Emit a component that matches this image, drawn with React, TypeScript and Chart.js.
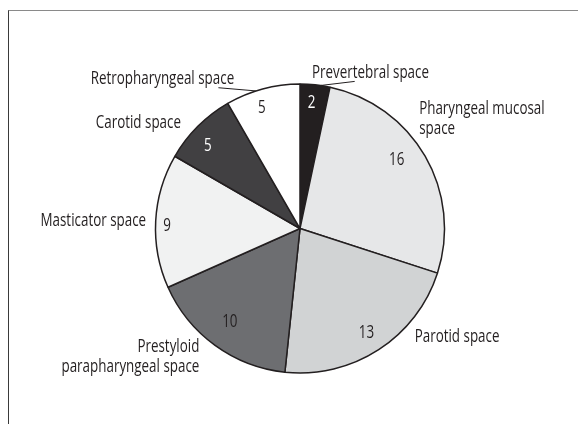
import React, { useEffect, useRef } from "react";
import { Chart, registerables } from "chart.js";

Chart.register(...registerables);

// ---- data ----
const categories = [
  "Prevertebral space",
  "Pharyngeal mucosal space",
  "Parotid space",
  "Prestyloid parapharyngeal space",
  "Masticator space",
  "Carotid space",
  "Retropharyngeal space",
];
const counts = [2, 16, 13, 10, 9, 5, 5];
const labelLines = [
  ["Prevertebral space"],
  ["Pharyngeal mucosal", "space"],
  ["Parotid space"],
  ["Prestyloid", "parapharyngeal space"],
  ["Masticator space"],
  ["Carotid space"],
  ["Retropharyngeal space"],
];

// ---- styles / label placement (angle: degrees clockwise from top, r: fraction of radius) ----
const sliceColors = ["#231f20", "#e6e7e8", "#d1d3d4", "#6d6e71", "#f1f2f2", "#414042", "#ffffff"];
const valueColors = ["#ffffff", "#231f20", "#231f20", "#231f20", "#231f20", "#ffffff", "#231f20"];
const valuePlacement = [
  { angle: 5.3, r: 0.872 },
  { angle: 54.8, r: 0.819 },
  { angle: 147.5, r: 0.855 },
  { angle: 216.8, r: 0.811 },
  { angle: 271.2, r: 0.92 },
  { angle: 312, r: 0.859 },
  { angle: 342.4, r: 0.875 },
];
const outerPlacement = [
  { angle: 4.4, r: 1.083, align: "left" },
  { angle: 47.4, r: 1.12, align: "left" },
  { angle: 133.4, r: 1.092, align: "left" },
  { angle: 218, r: 1.131, align: "right" },
  { angle: 272.8, r: 1.066, align: "right" },
  { angle: 311.7, r: 1.103, align: "right" },
  { angle: 336.3, r: 1.133, align: "right" },
];
const leaders = [
  { from: 8.2, toAngle: 20.4, toR: 1.086 },
  null,
  null,
  null,
  null,
  null,
  { from: 342.2, toAngle: 329.9, toR: 1.126 },
];
const FONT = '"Open Sans", "Liberation Sans", sans-serif';
const FONT_WEIGHT = 500;
const FONT_SIZE = 18;
const REF_TEXT = "Prevertebral space";
const REF_WIDTH = 117;
const TEXT = "#231f20";

function pt(cx: number, cy: number, deg: number, r: number) {
  const a = (deg * Math.PI) / 180 - Math.PI / 2;
  return { x: cx + Math.cos(a) * r, y: cy + Math.sin(a) * r };
}

function drawText(ctx: any, s: string, x: number, y: number, sx: number) {
  ctx.save();
  ctx.translate(x, y);
  ctx.scale(sx, 1);
  ctx.fillText(s, 0, 0);
  ctx.restore();
}

const labelPlugin = {
  id: "pieLabels",
  afterDatasetsDraw(chart: any) {
    const ctx = chart.ctx;
    const meta = chart.getDatasetMeta(0);
    ctx.save();
    ctx.font = `${FONT_WEIGHT} ${FONT_SIZE}px ${FONT}`;
    ctx.textBaseline = "middle";
    const sx = REF_WIDTH / ctx.measureText(REF_TEXT).width;
    meta.data.forEach((arc: any, i: number) => {
      const cx = arc.x;
      const cy = arc.y;
      const R = arc.outerRadius;
      // value label
      const vp = valuePlacement[i];
      const v = pt(cx, cy, vp.angle, R * vp.r);
      ctx.fillStyle = valueColors[i];
      ctx.textAlign = "center";
      drawText(ctx, String(counts[i]), v.x, v.y, sx);
      // outer label
      const pl = outerPlacement[i];
      const p = pt(cx, cy, pl.angle, R * pl.r);
      const lines = labelLines[i];
      const lh = 20;
      ctx.fillStyle = TEXT;
      ctx.textAlign = pl.align;
      lines.forEach((ln, k) => {
        drawText(ctx, ln, p.x, p.y + (k - (lines.length - 1) / 2) * lh, sx);
      });
      // leader
      const ld = leaders[i];
      if (ld) {
        const a = pt(cx, cy, ld.from, R);
        const b = pt(cx, cy, ld.toAngle, R * ld.toR);
        ctx.strokeStyle = TEXT;
        ctx.lineWidth = 1;
        ctx.beginPath();
        ctx.moveTo(a.x, a.y);
        ctx.lineTo(b.x, b.y);
        ctx.stroke();
      }
    });
    ctx.restore();
  },
};

export default function App() {
  const ref = useRef<HTMLCanvasElement | null>(null);
  useEffect(() => {
    if (!ref.current) return;
    const chart = new Chart(ref.current, {
      type: "pie",
      data: {
        labels: categories,
        datasets: [
          {
            data: counts,
            backgroundColor: sliceColors,
            borderColor: TEXT,
            borderWidth: 1.5,
          },
        ],
      },
      options: {
        responsive: false,
        animation: false,
        devicePixelRatio: 1,
        radius: 144.5,
        layout: { padding: { left: 155, right: 133, top: 83.5, bottom: 50.5 } },
        plugins: { legend: { display: false }, tooltip: { enabled: false } },
      } as any,
      plugins: [labelPlugin],
    });
    return () => chart.destroy();
  }, []);
  return (
    <div style={{ position: "fixed", left: 0, top: 0, width: 578, height: 424, overflow: "hidden", background: "#fff" }}>
      <div
        style={{
          position: "absolute",
          left: 8,
          top: 10,
          width: 640,
          height: 480,
          borderTop: "1.5px solid #8a8a8a",
          borderLeft: "1.5px solid #3a3a3a",
        }}
      />
      <canvas ref={ref} width={578} height={424} style={{ position: "absolute", left: 0, top: 0 }} />
    </div>
  );
}
